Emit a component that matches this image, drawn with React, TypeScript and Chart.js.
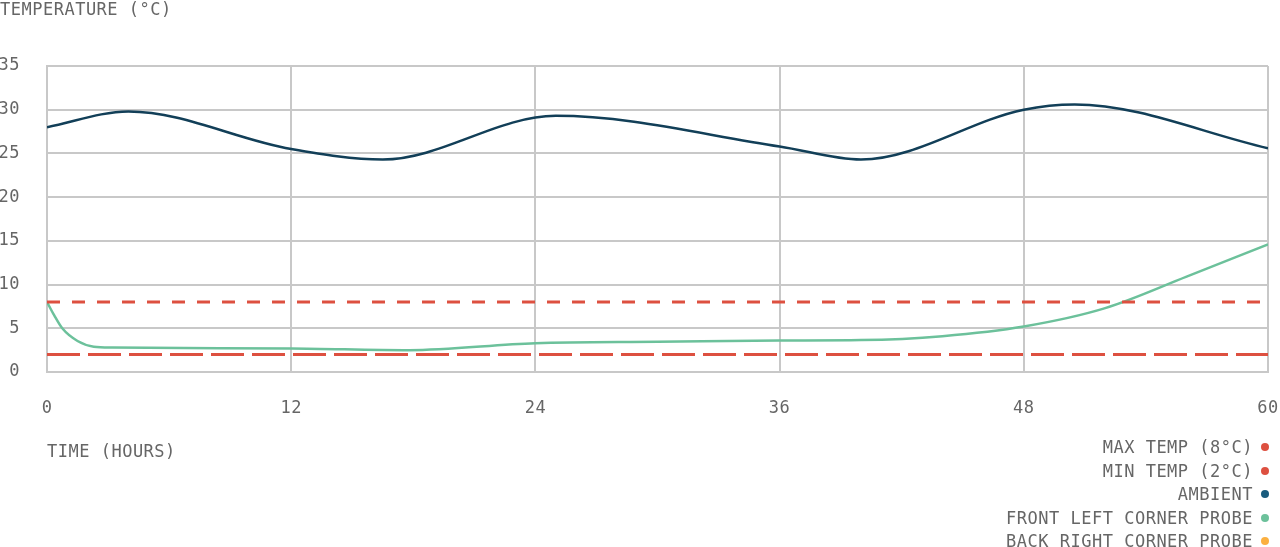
import React, { useEffect, useRef } from 'react';
import { Chart, registerables } from 'chart.js';

Chart.register(...registerables);

const FONT = '"DejaVu Sans Mono", monospace';
const TEXT = '#666';
const GRID = '#c8c8c8';

// hours on the x axis
const hourTicks = [0, 12, 24, 36, 48, 60];

// limits
const maxTemp = 8;
const minTemp = 2;

// ambient readings (hour, °C)
const ambientHours = [0, 4, 12, 16.5, 25, 36, 40, 48, 50.5, 60];
const ambientTemps = [28.0, 29.8, 25.5, 24.3, 29.3, 25.8, 24.3, 30.0, 30.6, 25.6];

// front left probe (hour, °C)
const frontHours = [0, 0.35, 0.75, 1.5, 2.3, 3.2, 12, 17.8, 24, 30, 36, 40, 44, 48, 52, 56, 60];
const frontTemps = [8.0, 6.5, 5.0, 3.55, 2.9, 2.8, 2.7, 2.5, 3.3, 3.45, 3.6, 3.65, 4.1, 5.2, 7.3, 10.9, 14.6];

// back right probe: no readings shown
const backHours: number[] = [];
const backTemps: number[] = [];

const seriesLabels = [
  'MAX TEMP (8°C)',
  'MIN TEMP (2°C)',
  'AMBIENT',
  'FRONT LEFT CORNER PROBE',
  'BACK RIGHT CORNER PROBE',
];
const seriesColors = ['#dd5040', '#dd5040', '#123f58', '#6cc19b', '#fbb040'];
const legendDots = ['#dd5040', '#dd5040', '#195b7d', '#6cc19b', '#fbb040'];

const toPoints = (xs: number[], ys: number[]) => xs.map((x, i) => ({ x, y: ys[i] }));

// widen the monospace text a little, like the reference font
const spacingPlugin = {
  id: 'spacing',
  beforeUpdate: (chart: any) => {
    chart.ctx.letterSpacing = '0.5px';
  },
  beforeDraw: (chart: any) => {
    chart.ctx.letterSpacing = '0.5px';
  },
};

const App: React.FC = () => {
  const canvasRef = useRef<HTMLCanvasElement | null>(null);
  const chartRef = useRef<Chart | null>(null);

  useEffect(() => {
    document.body.style.margin = '0';
    if (!canvasRef.current) return;
    const ctx = canvasRef.current.getContext('2d');
    if (!ctx) return;
    if (chartRef.current) chartRef.current.destroy();

    const first = hourTicks[0];
    const last = hourTicks[hourTicks.length - 1];

    chartRef.current = new Chart(ctx, {
      type: 'line',
      plugins: [spacingPlugin],
      data: {
        datasets: [
          {
            label: seriesLabels[0],
            data: toPoints([first, last], [maxTemp, maxTemp]),
            borderColor: seriesColors[0],
            borderWidth: 3,
            borderDash: [13, 12],
            pointRadius: 0,
          },
          {
            label: seriesLabels[1],
            data: toPoints([first, last], [minTemp, minTemp]),
            borderColor: seriesColors[1],
            borderWidth: 3,
            borderDash: [33, 8],
            pointRadius: 0,
          },
          {
            label: seriesLabels[2],
            data: toPoints(ambientHours, ambientTemps),
            borderColor: seriesColors[2],
            borderWidth: 2.5,
            cubicInterpolationMode: 'monotone',
            pointRadius: 0,
          },
          {
            label: seriesLabels[3],
            data: toPoints(frontHours, frontTemps),
            borderColor: seriesColors[3],
            borderWidth: 2.5,
            cubicInterpolationMode: 'monotone',
            pointRadius: 0,
          },
          {
            label: seriesLabels[4],
            data: toPoints(backHours, backTemps),
            borderColor: seriesColors[4],
            borderWidth: 2.5,
            cubicInterpolationMode: 'monotone',
            pointRadius: 0,
          },
        ],
      },
      options: {
        animation: false,
        responsive: true,
        maintainAspectRatio: false,
        layout: { padding: { left: 0, right: 12, top: 0, bottom: 0 } },
        plugins: {
          legend: { display: false },
          tooltip: { enabled: false },
          title: {
            display: true,
            text: 'TEMPERATURE (°C)',
            align: 'start',
            color: TEXT,
            font: { family: FONT, size: 17, weight: 'normal' },
            padding: { top: 0, bottom: 45.6 },
          },
        },
        scales: {
          x: {
            type: 'linear',
            min: first,
            max: last,
            afterFit: (scale: any) => {
              scale.height = 175;
              scale.paddingLeft = 0;
              scale.paddingRight = 0;
            },
            afterBuildTicks: (scale: any) => {
              scale.ticks = hourTicks.map((v) => ({ value: v }));
            },
            ticks: {
              color: TEXT,
              font: { family: FONT, size: 17 },
              padding: 26,
              maxRotation: 0,
            },
            grid: { color: GRID, lineWidth: 2, drawTicks: false },
            border: { color: GRID, width: 2 },
            title: {
              display: true,
              text: 'TIME (HOURS)',
              align: 'start',
              color: TEXT,
              font: { family: FONT, size: 17 },
              padding: { top: 0, bottom: 84 },
            },
          },
          y: {
            min: 0,
            max: 35,
            afterFit: (scale: any) => {
              scale.width = 47;
            },
            ticks: {
              stepSize: 5,
              color: TEXT,
              font: { family: FONT, size: 17 },
              padding: 27,
            },
            grid: { color: GRID, lineWidth: 2, drawTicks: false },
            border: { color: GRID, width: 2 },
          },
        },
      },
    });

    return () => {
      if (chartRef.current) {
        chartRef.current.destroy();
        chartRef.current = null;
      }
    };
  }, []);

  return (
    <div style={{ position: 'relative', width: 1280, height: 547 }}>
      <canvas ref={canvasRef}></canvas>
      <div
        style={{
          position: 'absolute',
          right: 11,
          top: 436,
          fontFamily: FONT,
          fontSize: 17,
          letterSpacing: '0.5px',
          color: TEXT,
          textAlign: 'right',
        }}
      >
        {seriesLabels.map((label, i) => (
          <div key={label} style={{ height: 23.5, lineHeight: '23.5px', whiteSpace: 'nowrap' }}>
            {label}
            <span
              style={{
                display: 'inline-block',
                width: 8,
                height: 8,
                borderRadius: 4,
                background: legendDots[i],
                marginLeft: 8,
                verticalAlign: 'middle',
                position: 'relative',
                top: -1,
              }}
            />
          </div>
        ))}
      </div>
    </div>
  );
};

export default App;
